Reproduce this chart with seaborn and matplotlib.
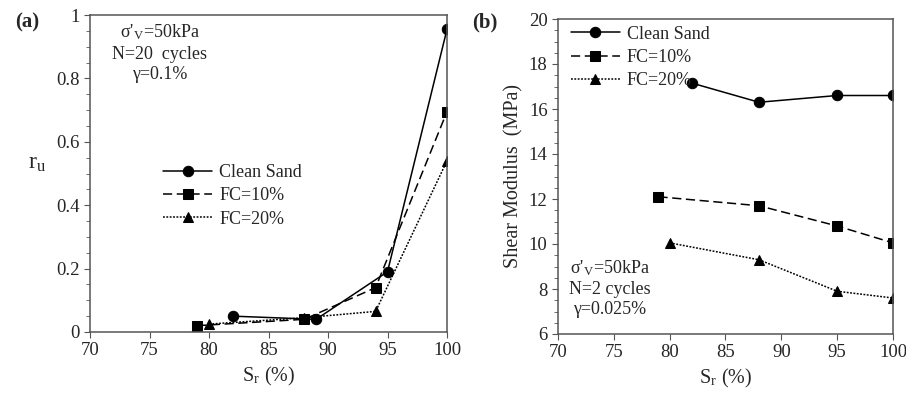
import matplotlib
matplotlib.use("Agg")
import matplotlib.pyplot as plt
from matplotlib.ticker import MultipleLocator
import seaborn as sns
import pandas as pd

# --- data ---
series_names = ["Clean Sand", "FC=10%", "FC=20%"]

# (a) excess pore pressure ratio
ru_sr_clean = [82, 89, 95, 100]
ru_clean = [0.05, 0.04, 0.19, 0.955]
ru_sr_fc10 = [79, 88, 94, 100]
ru_fc10 = [0.02, 0.04, 0.14, 0.695]
ru_sr_fc20 = [80, 88, 94, 100]
ru_fc20 = [0.025, 0.045, 0.065, 0.54]

# (b) shear modulus (MPa)
g_sr_clean = [82, 88, 95, 100]
g_clean = [17.15, 16.3, 16.6, 16.6]
g_sr_fc10 = [79, 88, 95, 100]
g_fc10 = [12.1, 11.7, 10.8, 10.05]
g_sr_fc20 = [80, 88, 95, 100]
g_fc20 = [10.05, 9.3, 7.9, 7.6]

sns.set_style("ticks")
plt.rcParams["font.family"] = ["Liberation Serif", "DejaVu Serif"]
plt.rcParams["mathtext.fontset"] = "stix"


def make_df(xs, ys):
    rows = []
    for name, x, y in zip(series_names, xs, ys):
        for xi, yi in zip(x, y):
            rows.append({"Sr": xi, "val": yi, "series": name})
    return pd.DataFrame(rows)


df_a = make_df([ru_sr_clean, ru_sr_fc10, ru_sr_fc20], [ru_clean, ru_fc10, ru_fc20])
df_b = make_df([g_sr_clean, g_sr_fc10, g_sr_fc20], [g_clean, g_fc10, g_fc20])

dashes = {"Clean Sand": "", "FC=10%": (6, 3), "FC=20%": (1.2, 1.0)}
markers = {"Clean Sand": "o", "FC=10%": "s", "FC=20%": "^"}
palette = {n: "black" for n in series_names}

fig = plt.figure(figsize=(9.06, 3.98), dpi=100)
ax1 = fig.add_axes([90 / 906, 1 - 332 / 398, 357 / 906, 317 / 398])
ax2 = fig.add_axes([558 / 906, 1 - 334 / 398, 335 / 906, 315 / 398])

for ax, df in [(ax1, df_a), (ax2, df_b)]:
    sns.lineplot(data=df, x="Sr", y="val", hue="series", style="series",
                 palette=palette, dashes=dashes, markers=markers,
                 markersize=7.5, linewidth=1.1, markeredgecolor="black",
                 sort=False, ax=ax)
    for s in ax.spines.values():
        s.set_visible(True)
        s.set_color("#555555")
        s.set_linewidth(1.1)
    ax.set_xlim(70, 100)
    ax.xaxis.set_major_locator(MultipleLocator(5))
    ax.tick_params(axis="both", labelsize=13.5, direction="out", length=4, color="#555555")
    ax.tick_params(axis="y", which="minor", length=3, direction="out", color="#555555")
    ax.set_xlabel(r"S$_{\mathregular{r}}$ (%)", fontsize=14.5)
    ax.grid(False)

ax1.set_ylim(0, 1)
ax1.yaxis.set_minor_locator(MultipleLocator(0.05))
ax1.set_yticks([0, 0.2, 0.4, 0.6, 0.8, 1.0])
ax1.set_yticklabels(["0", "0.2", "0.4", "0.6", "0.8", "1"])
ax1.set_ylabel(r"r$_{\mathregular{u}}$", fontsize=17, rotation=0, labelpad=14)
ax1.legend(frameon=False, fontsize=13, loc="center left",
           bbox_to_anchor=(0.16, 0.43), handlelength=2.7, handletextpad=0.4,
           labelspacing=0.35)
ax1.text(0.195, 0.975, "σ'$_{\\mathregular{V}}$=50kPa\nN=20  cycles\nγ=0.1%",
         transform=ax1.transAxes, ha="center", va="top", fontsize=13,
         linespacing=1.25)

ax2.set_ylim(6, 20)
ax2.yaxis.set_major_locator(MultipleLocator(2))
ax2.yaxis.set_minor_locator(MultipleLocator(0.5))
ax2.set_ylabel("Shear Modulus  (MPa)", fontsize=14.5)
ax2.legend(frameon=False, fontsize=13, loc="upper left",
           bbox_to_anchor=(-0.01, 1.03), handlelength=2.7, handletextpad=0.4,
           labelspacing=0.35)
ax2.text(0.155, 0.24, "σ'$_{\\mathregular{V}}$=50kPa\nN=2 cycles\nγ=0.025%",
         transform=ax2.transAxes, ha="center", va="top", fontsize=13,
         linespacing=1.25)

fig.text(15 / 906, 1 - 22 / 398, "(a)", fontsize=15, fontweight="bold", va="center")
fig.text(472 / 906, 1 - 22 / 398, "(b)", fontsize=15, fontweight="bold", va="center")

fig.savefig("out.png", dpi=100)
